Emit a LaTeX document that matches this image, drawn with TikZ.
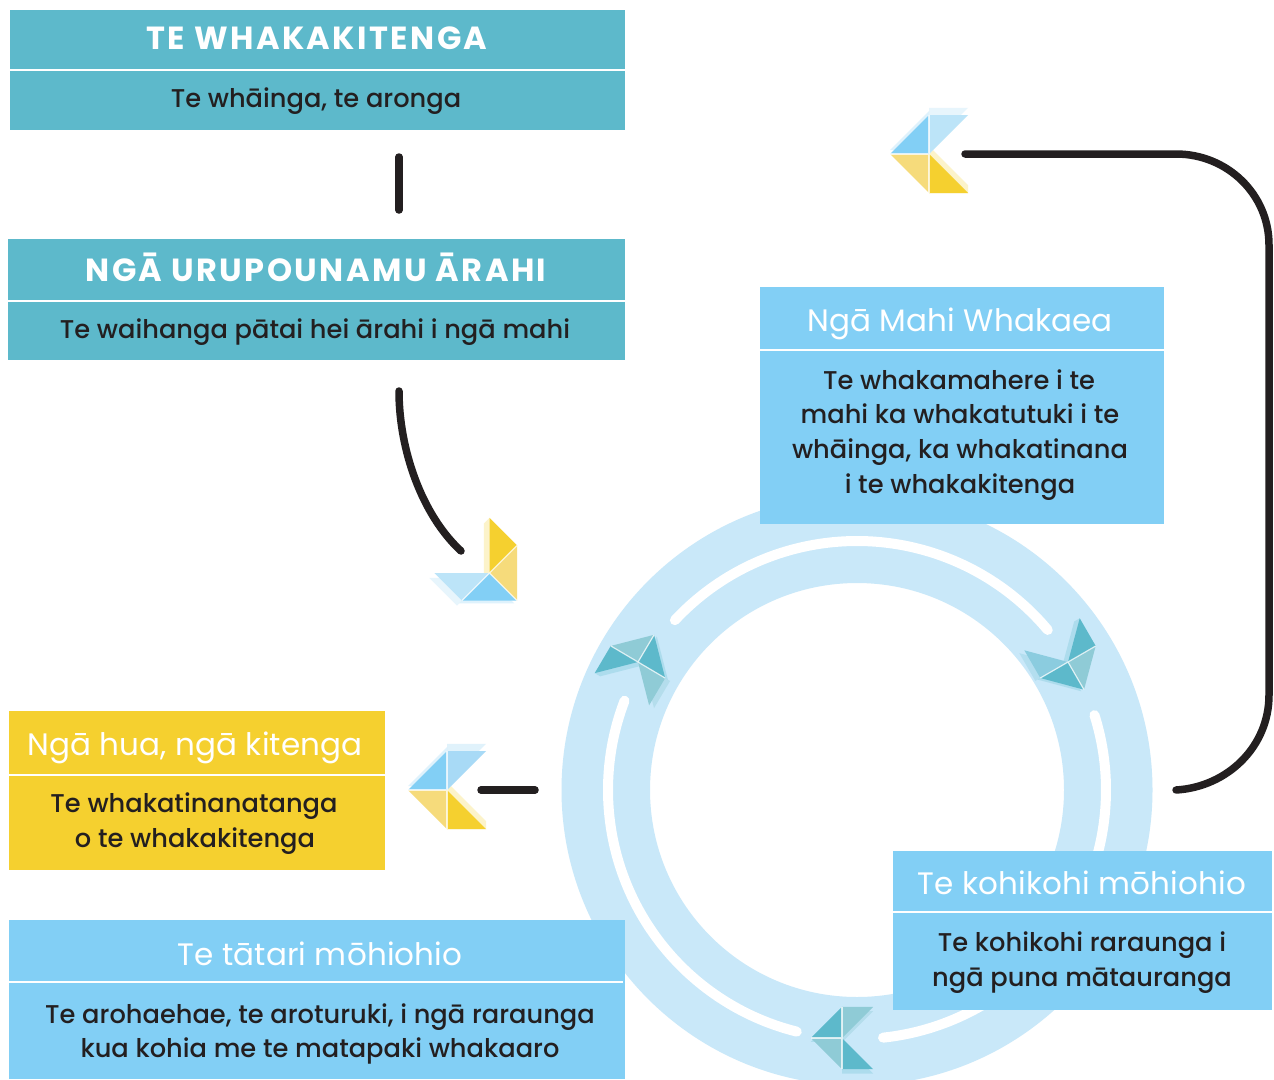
\documentclass[tikz,border=0pt]{standalone}
\usepackage{fontspec}
\setmainfont{Poppins}
\newfontfamily\bodyf{Poppins}[UprightFont=* Medium]
\definecolor{teal}{HTML}{5DB9CB}
\definecolor{tealp}{HTML}{8FCBD6}
\definecolor{sky}{HTML}{82CFF5}
\definecolor{skyp}{HTML}{BCE4F8}
\definecolor{skym}{HTML}{A8DAF6}
\definecolor{ringc}{HTML}{C9E8F9}
\definecolor{sun}{HTML}{F5D02F}
\definecolor{sunp}{HTML}{F6DB7B}
\definecolor{ink}{HTML}{231F20}
\newcommand{\sdA}{0,-.1}
\newcommand{\sdB}{0,-.18}
\newcommand{\fourshadow}{(.1,-.1) -- (1,.8) -- (1,1) -- (0,1) -- (0,0) -- cycle}
\newcommand{\arrowicon}[8]{%
\begin{scope}[shift={(#1,#2)},rotate=#3,scale=#4*39]
\fill[#5,opacity=.25] ($(-1,0)+(\sdA)$) -- ($(0,-1)+(\sdA)$) -- ($(0,0)+(\sdA)$) -- cycle;
\fill[#6,opacity=.35] ($(0,-1)+(\sdB)$) -- ($(1,-1)+(\sdB)$) -- ($(0,0)+(\sdB)$) -- cycle;
\fill[#8,opacity=.25] \fourshadow;
\fill[#5] (-1,0) -- (0,-1) -- (0,0) -- cycle;
\fill[#6] (0,-1) -- (1,-1) -- (0,0) -- cycle;
\fill[#7] (-1,0) -- (0,0) -- (0,1) -- cycle;
\fill[#8] (0,0) -- (1,1) -- (0,1) -- cycle;
\draw[white,opacity=.75,line width=1.2pt] (0,-1) -- (0,1) (-1,0) -- (0,0);
\end{scope}}
\tikzset{
 boxn/.style={anchor=north west,inner sep=0pt,outer sep=0pt},
 rule/.style={white,line width=2.2pt},
 conn/.style={ink,line width=7.5pt,line cap=round},
 gap/.style={white,line width=10pt,line cap=round},
 body/.style={text=ink,font=\bodyf\fontsize{25.7}{30}\selectfont,inner sep=0pt,anchor=center,text height=19pt,text depth=0pt},
 ttl/.style={text=white,font=\fontsize{31}{34}\selectfont\addfontfeature{LetterSpace=.5},inner sep=0pt,anchor=center,text height=22pt,text depth=0pt},
 ttlb/.style={text=white,font=\fontsize{32}{34}\selectfont\bfseries\addfontfeature{LetterSpace=7.5},inner sep=0pt,anchor=center,text height=23pt,text depth=0pt},
}
\usetikzlibrary{calc}
\begin{document}
\begin{tikzpicture}[x=1pt,y=1pt,yscale=-1]
\useasboundingbox (0,0) rectangle (1274,1079);
\clip (0,0) rectangle (1274,1079);
\fill[white] (0,0) rectangle (1274,1079);
% ring
\coordinate (rc) at (857,790);
\fill[ringc,even odd rule] (rc) circle[radius=295.5] (rc) circle[radius=207];
\draw[gap] (rc) ++(223:249) arc[start angle=223,end angle=320,radius=249];
\draw[gap] (rc) ++(-17.5:249) arc[start angle=-17.5,end angle=84,radius=249];
\draw[gap] (rc) ++(201:249) arc[start angle=201,end angle=104,radius=249];
% teal icons on ring
\arrowicon{638}{662}{120.6}{.81}{teal}{tealp}{tealp}{teal}
\arrowicon{1068}{662}{240}{.82}{teal}{tealp!70!sky}{tealp}{teal}
\renewcommand{\sdA}{0,.12}\renewcommand{\sdB}{0,.14}
\renewcommand{\fourshadow}{(0,.14) -- (1,1.14) -- (0,1.14) -- cycle}
\arrowicon{842}{1038}{0}{.8}{teal}{tealp}{tealp}{teal}
\renewcommand{\sdA}{0,-.1}\renewcommand{\sdB}{0,-.18}
\renewcommand{\fourshadow}{(.1,-.1) -- (1,.8) -- (1,1) -- (0,1) -- (0,0) -- cycle}
% other icons
\arrowicon{929}{154}{0}{1}{sky}{skyp}{sunp}{sun}
\arrowicon{447}{790}{0}{1}{sky}{skym}{sunp}{sun}
\arrowicon{489.5}{573}{225}{1}{sky}{skyp}{sunp}{sun}
% boxes
\node[boxn,fill=teal,minimum width=615pt,minimum height=120pt] (b1) at (10,10) {};
\draw[rule] (10,70) -- (625,70);
\node[ttlb] (t1) at (317,38) {TE WHAKAKITENGA};
\node[body] (s1) at (316,98) {Te whāinga, te aronga};
\node[boxn,fill=teal,minimum width=617pt,minimum height=121pt] (b2) at (8,239) {};
\draw[rule] (8,301) -- (625,301);
\node[ttlb] (t2) at (316,270) {NGĀ URUPOUNAMU ĀRAHI};
\node[body] (s2) at (315,329) {Te waihanga pātai hei ārahi i ngā mahi};
\node[boxn,fill=sky,minimum width=404pt,minimum height=237pt] (b3) at (760,287) {};
\draw[rule] (760,350) -- (1164,350);
\node[ttl] (t3) at (960,320) {Ngā Mahi Whakaea};
\node[body] (s3a) at (959,380) {Te whakamahere i te};
\node[body] (s3b) at (960,414) {mahi ka whakatutuki i te};
\node[body] (s3c) at (960,449) {whāinga, ka whakatinana};
\node[body] (s3d) at (960,484) {i te whakakitenga};
\node[boxn,fill=sun,minimum width=376pt,minimum height=159pt] (b4) at (9,711) {};
\draw[rule] (9,775) -- (385,775);
\node[ttl] (t4) at (195,744) {Ngā hua, ngā kitenga};
\node[body] (s4a) at (194,803) {Te whakatinanatanga};
\node[body] (s4b) at (195,838) {o te whakakitenga};
\node[boxn,fill=sky,minimum width=616pt,minimum height=159pt] (b5) at (9,920) {};
\draw[rule] (9,982) -- (623,982);
\node[ttl] (t5) at (320,954) {Te tātari mōhiohio};
\node[body] (s5a) at (320,1014) {Te arohaehae, te aroturuki, i ngā raraunga};
\node[body] (s5b) at (320,1048) {kua kohia me te matapaki whakaaro};
\node[boxn,fill=sky,minimum width=379pt,minimum height=159pt] (b6) at (893,851) {};
\draw[rule] (893,912) -- (1272,912);
\node[ttl] (t6) at (1082,883) {Te kohikohi mōhiohio};
\node[body] (s6a) at (1082,942) {Te kohikohi raraunga i};
\node[body] (s6b) at (1082,977) {ngā puna mātauranga};
% connectors
\coordinate (a1) at (399,157); \coordinate (a2) at (399,210);
\draw[conn] (a1) -- (a2);
\coordinate (c1) at (399,391); \coordinate (c2) at (461,551);
\draw[conn] (c1) .. controls (399,450) and (422,515) .. (c2);
\coordinate (d1) at (1176,790); \coordinate (d2) at (965,154);
\draw[conn] (d1) .. controls (1227,787) and (1269,747) .. (1269,695) -- (1269,245) .. controls (1269,194) and (1227,154) .. (1176,154) -- (d2);
\coordinate (e1) at (535,790); \coordinate (e2) at (481,790);
\draw[conn] (e1) -- (e2);
\end{tikzpicture}
\end{document}
